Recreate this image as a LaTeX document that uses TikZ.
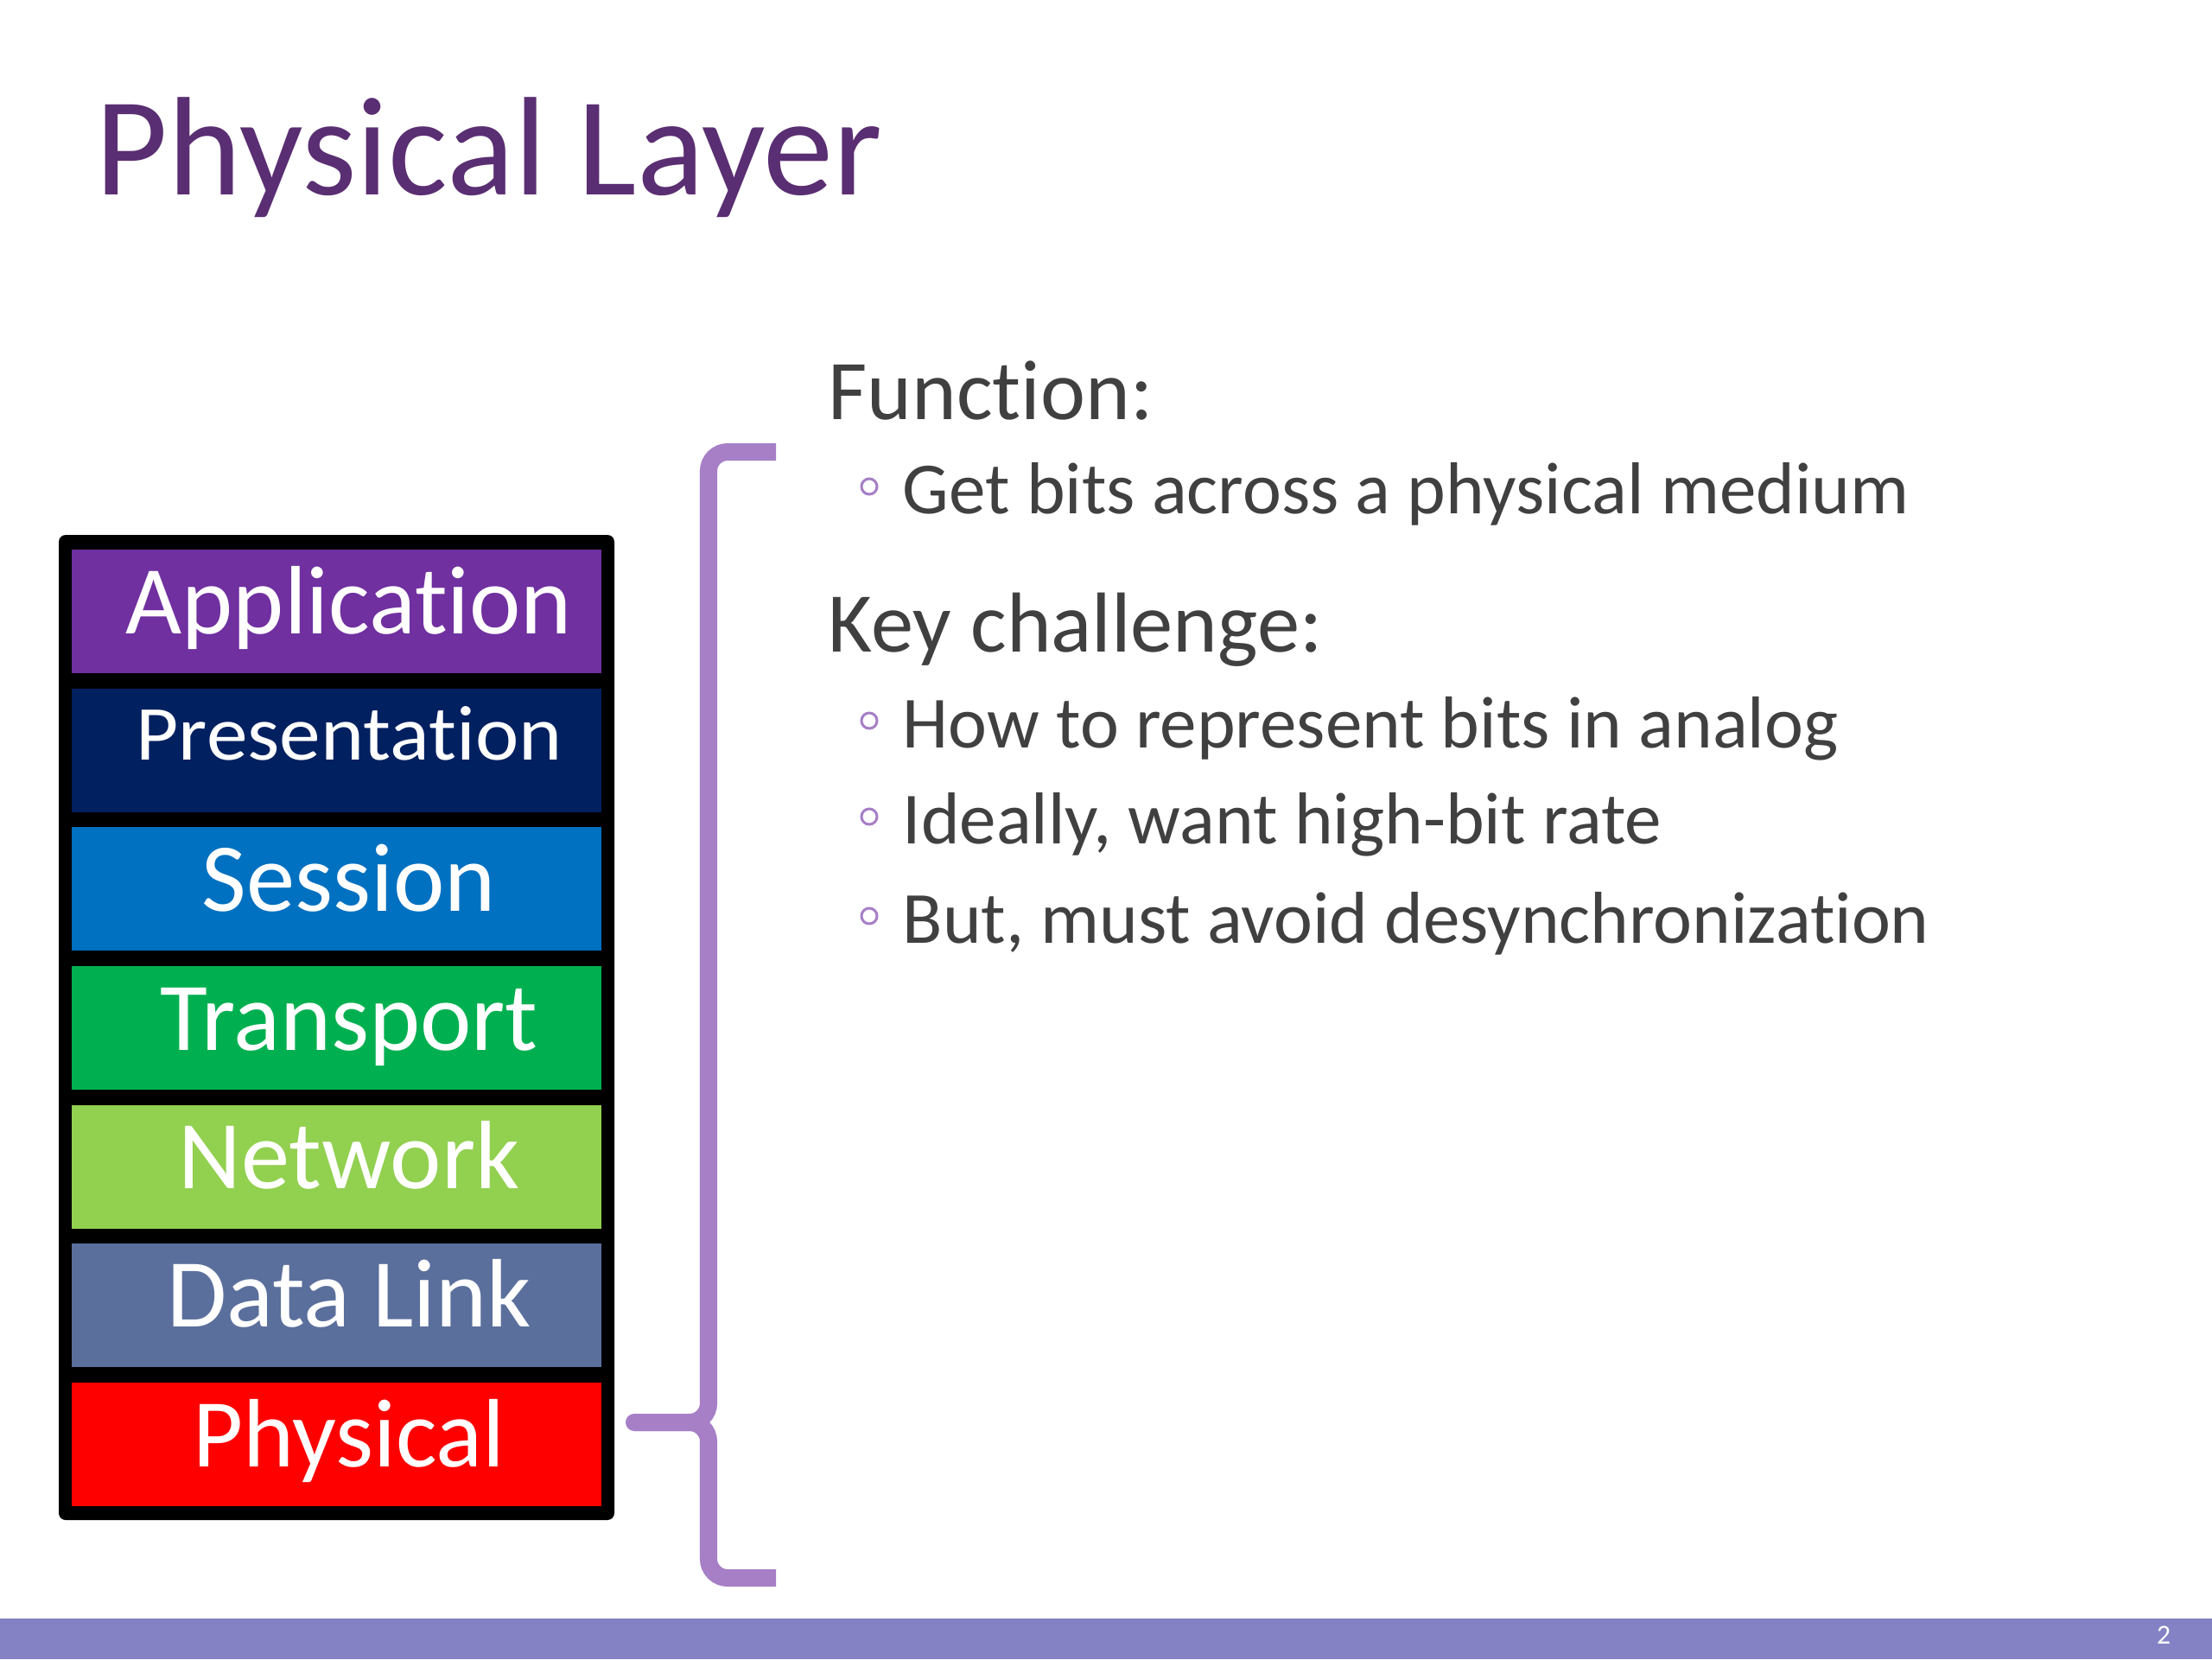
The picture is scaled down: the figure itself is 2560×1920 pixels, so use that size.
\documentclass[tikz,border=0pt]{standalone}
\usepackage{fontspec}
\setmainfont{Carlito}[Ligatures={NoCommon,NoRare}]
\usepackage{xcolor}
\usepackage{graphicx}
\usepackage{tikz}
\usetikzlibrary{positioning}

\definecolor{col-titolo}{RGB}{90,46,114}
\definecolor{col-testo}{RGB}{64,64,64}
\definecolor{col-viola}{RGB}{166,127,198}
\definecolor{col-barra}{RGB}{132,129,196}
\definecolor{col-app}{HTML}{7030A0}
\definecolor{col-pres}{HTML}{002060}
\definecolor{col-sess}{HTML}{0070C0}
\definecolor{col-trasp}{HTML}{00B050}
\definecolor{col-rete}{HTML}{92D050}
\definecolor{col-link}{RGB}{91,111,156}
\definecolor{col-fis}{HTML}{FF0000}

\tikzset{
  livello/.style={minimum width=6.13cm, minimum height=1.43cm, inner sep=0pt, outer sep=0pt},
  etichetta/.style={text=white, inner sep=0pt, anchor=base, font=\fontsize{32}{38}\selectfont},
  intestazione/.style={text=col-testo, inner sep=0pt, anchor=base west, font=\fontsize{28}{34}\selectfont},
  voce/.style={text=col-testo, inner sep=0pt, anchor=base west, font=\fontsize{24.2}{29}\selectfont},
  pallino/.style={draw=col-viola, line width=0.85pt},
  graffa/.style={draw=col-viola, line width=5.7pt, rounded corners=0.22cm},
}

\begin{document}
\begin{tikzpicture}[x=0.01cm, y=-0.01cm]
        \fill[white] (0,0) rectangle (2560,1920);
        \useasboundingbox (0,0) rectangle (2560,1920);

        % Titolo
        \node[anchor=base west, inner sep=0pt, text=col-titolo, font=\fontsize{46.2}{55}\selectfont] (titolo) at (110,225) {Physical Layer};

        % Pila dei livelli
        \fill[black, rounded corners=0.08cm] (68,619) rectangle (711,1759);
        \foreach \nome/\col/\off/\testo [count=\i from 0] in {
            app/col-app/97/Application,
            pres/col-pres/83/{\scalebox{1.06}[1]{\fontsize{25.6}{30}\selectfont Presentation}},
            sess/col-sess/97/Session,
            trasp/col-trasp/97/Transport,
            rete/col-rete/97/Network,
            link/col-link/96/Data Link,
            fis/col-fis/97/Physical} {
            \pgfmathsetmacro\cy{707.5+160.67*\i}
            \pgfmathsetmacro\by{\cy-71.5+\off}
            \node[livello, fill=\col] (\nome) at (389.5,\cy) {};
            \node[etichetta] (t\nome) at (404,\by) {\testo};
        }

        % Graffa
        \coordinate (gAlto) at (898,523);
        \coordinate (gBasso) at (898,1826);
        \coordinate (gPunta) at (734,1646);
        \draw[graffa] (gAlto) -- (820,523) -- (820,1646) -- (gPunta);
        \draw[graffa] (gBasso) -- (820,1826) -- (820,1646) -- (gPunta);
        \fill[col-viola] (gPunta) circle (0.1cm);

        % Testo a destra
        \node[intestazione] (funz) at (958,485) {Function:};
        \node[voce] (v1) at (1044,594) {Get bits across a physical medium};
        \node[intestazione] (sfida) at (958,754) {Key challenge:};
        \node[voce] (v2) at (1044,865) {How to represent bits in analog};
        \node[voce] (v3) at (1044,976) {Ideally, want high-bit rate};
        \node[voce] (v4) at (1044,1091) {But, must avoid desynchronization};
        \foreach \yb in {594,865,976,1091}
            \draw[pallino] (1006,\yb-31) circle (0.09cm);

        % Barra in basso
        \fill[col-barra] (0,1873) rectangle (2560,1920);
        \node[text=white, font=\fontsize{9}{11}\selectfont] (pagina) at (2504,1892) {2};
\end{tikzpicture}
\end{document}
